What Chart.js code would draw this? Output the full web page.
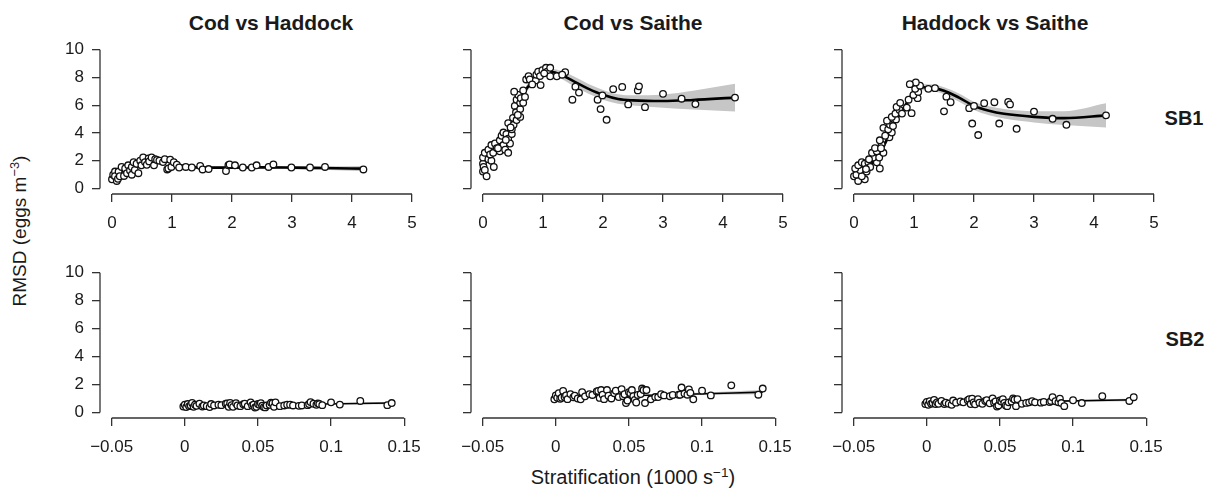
<!DOCTYPE html>
<html><head><meta charset="utf-8">
<script src="https://cdn.jsdelivr.net/npm/chart.js@4"></script>
<style>
html,body{margin:0;padding:0;background:#fff;}
body{width:1213px;height:500px;position:relative;overflow:hidden;font-family:"Liberation Sans",Arial,sans-serif;color:#1a1a1a;}
canvas{position:absolute;}
.lab{position:absolute;white-space:nowrap;line-height:1;transform:translate(-50%,-50%);}
.b{font-weight:bold;}
.sup{font-size:0.68em;position:relative;top:-0.55em;}
</style></head><body>
<div class="lab b" style="left:271px;top:22px;font-size:21px;">Cod vs Haddock</div>
<div class="lab b" style="left:633px;top:22px;font-size:21px;">Cod vs Saithe</div>
<div class="lab b" style="left:995px;top:22px;font-size:21px;">Haddock vs Saithe</div>
<div class="lab b" style="left:1184px;top:118px;font-size:20px;">SB1</div>
<div class="lab b" style="left:1185px;top:339px;font-size:20px;">SB2</div>
<div class="lab" style="left:633px;top:477px;font-size:20px;">Stratification (1000 s<span class="sup">−1</span>)</div>
<div class="lab" style="left:19px;top:231px;font-size:19px;transform:translate(-50%,-50%) rotate(-90deg);">RMSD (eggs m<span class="sup">−3</span>)</div>
<script>
// ---------- axis ticks ----------
const sb1XTicks = [0, 1, 2, 3, 4, 5];
const sb1XLabels = ['0', '1', '2', '3', '4', '5'];
const sb2XTicks = [-0.05, 0, 0.05, 0.1, 0.15];
const sb2XLabels = ['\u22120.05', '0', '0.05', '0.1', '0.15'];
const yTicks = [0, 2, 4, 6, 8, 10];
const yLabels = ['0', '2', '4', '6', '8', '10'];

// ---------- SB1: Cod vs Haddock ----------
const codHadSB1X = [0.00,0.02,0.05,0.05,0.08,0.10,0.11,0.13,0.16,0.20,0.22,0.25,0.27,0.30,0.33,0.33,0.36,0.38,0.41,0.44,0.47,0.49,0.52,0.55,0.58,0.61,0.62,0.66,0.70,0.72,0.75,0.79,0.85,0.88,0.92,0.94,0.97,0.99,1.03,1.08,1.12,1.23,1.33,1.47,1.51,1.61,1.90,1.94,1.96,2.05,2.18,2.33,2.41,2.61,2.69,2.99,3.30,3.55,4.19];
const codHadSB1Y = [0.66,0.99,1.22,0.88,0.54,0.70,1.22,0.88,1.55,0.90,1.44,1.10,1.67,1.30,1.55,0.99,1.89,1.33,1.78,1.10,2.00,1.67,2.23,1.90,1.71,2.16,1.95,2.23,1.67,2.11,2.05,2.00,1.90,2.11,1.37,1.44,2.07,1.55,1.89,1.71,1.51,1.55,1.51,1.62,1.37,1.40,1.26,1.67,1.73,1.67,1.51,1.51,1.67,1.55,1.73,1.51,1.51,1.55,1.37];
const codHadSB1FitX = [0,0.15,0.3,0.45,0.6,0.75,0.9,1.05,1.2,1.4,1.7,2.0,2.5,3.0,3.5,4.2];
const codHadSB1FitY = [0.85,1.2,1.5,1.8,2.02,2.08,1.98,1.8,1.62,1.52,1.5,1.5,1.52,1.5,1.47,1.43];
const codHadSB1Hi   = [1.0,1.3,1.6,1.9,2.12,2.18,2.08,1.9,1.72,1.62,1.58,1.58,1.6,1.6,1.6,1.62];
const codHadSB1Lo   = [0.7,1.1,1.4,1.7,1.92,1.98,1.88,1.7,1.52,1.42,1.42,1.42,1.44,1.4,1.34,1.24];

// ---------- SB1: Cod vs Saithe ----------
const codSaiSB1X = [0.00,0.00,0.01,0.03,0.06,0.00,0.09,0.14,0.18,0.03,0.09,0.12,0.17,0.14,0.20,0.23,0.28,0.28,0.31,0.34,0.34,0.37,0.39,0.42,0.42,0.45,0.42,0.48,0.48,0.50,0.51,0.53,0.55,0.56,0.56,0.59,0.62,0.62,0.62,0.63,0.52,0.67,0.67,0.72,0.76,0.78,0.88,0.89,0.92,0.96,0.99,1.05,1.07,1.12,1.12,1.23,1.37,1.32,1.49,1.54,1.60,1.91,1.96,1.99,2.06,2.17,2.32,2.42,2.58,2.60,2.70,3.00,3.31,3.54,4.20,0.25,0.38,0.46,0.58,0.70,0.82,0.95,1.02];
const codSaiSB1Y = [1.22,1.78,1.55,1.33,0.88,2.23,2.11,2.00,1.55,2.57,2.79,2.45,2.57,3.13,3.24,2.91,2.68,3.47,3.80,4.03,3.13,2.79,3.92,3.58,2.57,3.24,4.71,3.92,4.26,5.09,4.59,5.95,5.49,4.93,6.40,6.74,5.16,5.72,6.17,6.51,6.98,6.17,7.07,7.86,8.09,7.86,7.79,8.20,8.42,7.45,8.53,8.70,8.42,8.70,8.09,8.09,8.38,8.20,6.40,7.34,6.91,6.40,5.72,6.71,4.95,7.16,7.32,6.06,7.07,7.36,5.86,6.82,6.47,6.08,6.55,2.90,3.50,4.40,5.30,6.60,7.50,8.10,8.30];
const codSaiSB1FitX = [0,0.1,0.2,0.3,0.4,0.5,0.6,0.7,0.8,0.9,1.0,1.15,1.3,1.5,1.75,2.0,2.25,2.5,3.0,3.5,4.2];
const codSaiSB1FitY = [1.6,2.3,2.8,3.3,4.0,4.8,5.9,7.0,7.6,8.0,8.3,8.4,8.2,7.75,7.2,6.75,6.45,6.35,6.3,6.38,6.55];
const codSaiSB1Hi   = [2.0,2.55,3.05,3.55,4.25,5.05,6.15,7.25,7.85,8.25,8.5,8.62,8.48,8.1,7.55,7.1,6.8,6.72,6.78,7.05,7.55];
const codSaiSB1Lo   = [1.2,2.05,2.55,3.05,3.75,4.55,5.65,6.75,7.35,7.75,8.1,8.18,7.92,7.4,6.85,6.4,6.1,5.98,5.82,5.7,5.55];

// ---------- SB1: Haddock vs Saithe ----------
const hadSaiSB1X = [0.00,0.07,0.18,0.04,0.13,0.10,0.21,0.02,0.07,0.13,0.18,0.24,0.27,0.43,0.38,0.32,0.42,0.30,0.49,0.38,0.35,0.46,0.43,0.59,0.52,0.63,0.49,0.57,0.60,0.55,0.70,0.63,0.69,0.76,0.71,0.77,0.88,0.96,0.91,1.06,0.99,1.07,1.02,1.10,1.03,0.93,1.24,1.35,1.50,1.54,1.61,1.92,2.00,1.97,2.07,2.17,2.34,2.42,2.57,2.60,2.71,3.00,3.31,3.54,4.20,0.25,0.45,0.65,0.80,0.20];
const hadSaiSB1Y = [0.88,0.54,0.66,0.99,0.88,1.33,1.22,1.44,1.67,1.89,1.78,1.89,1.55,1.44,1.89,2.23,2.23,2.57,2.57,2.68,2.91,3.18,3.47,3.69,3.80,4.03,4.37,4.26,4.59,4.89,4.98,5.16,5.39,5.66,5.88,6.17,5.83,5.43,6.40,6.51,6.74,6.96,7.18,7.41,7.64,7.52,7.18,7.23,5.56,6.62,6.22,5.79,5.95,4.68,3.85,6.15,6.22,4.68,6.24,6.06,4.30,5.54,5.02,4.59,5.27,2.10,2.90,4.50,5.40,1.40];
const hadSaiSB1FitX = [0,0.1,0.2,0.3,0.4,0.5,0.6,0.7,0.8,0.9,1.0,1.15,1.3,1.5,1.75,2.0,2.25,2.5,3.0,3.5,4.2];
const hadSaiSB1FitY = [0.8,1.1,1.45,1.85,2.4,3.1,4.0,4.9,5.6,6.3,7.0,7.3,7.25,7.05,6.55,5.95,5.6,5.38,5.16,5.07,5.27];
const hadSaiSB1Hi   = [1.15,1.35,1.7,2.1,2.65,3.35,4.25,5.15,5.85,6.55,7.22,7.52,7.5,7.3,6.85,6.25,5.92,5.72,5.56,5.57,6.15];
const hadSaiSB1Lo   = [0.45,0.85,1.2,1.6,2.15,2.85,3.75,4.65,5.35,6.05,6.78,7.08,7.0,6.8,6.25,5.65,5.28,5.04,4.76,4.57,4.39];

// ---------- SB2 (shared stratification values) ----------
const sb2X = [-0.001,0,0.001,0.002,0.003,0.004,0.005,0.006,0.007,0.008,0.010,0.012,0.013,0.015,0.017,0.018,0.020,0.023,0.025,0.028,0.029,0.030,0.031,0.032,0.033,0.035,0.036,0.038,0.040,0.041,0.043,0.045,0.046,0.047,0.048,0.049,0.050,0.051,0.052,0.053,0.054,0.055,0.056,0.058,0.059,0.060,0.061,0.062,0.065,0.068,0.070,0.072,0.074,0.078,0.080,0.084,0.085,0.086,0.088,0.090,0.091,0.092,0.094,0.100,0.106,0.120,0.1385,0.1415];
const codHadSB2Y = [0.42,0.55,0.38,0.60,0.45,0.50,0.68,0.40,0.55,0.47,0.62,0.42,0.50,0.45,0.38,0.60,0.50,0.55,0.52,0.62,0.65,0.40,0.68,0.52,0.40,0.66,0.50,0.45,0.58,0.62,0.45,0.72,0.50,0.55,0.35,0.40,0.60,0.55,0.66,0.48,0.38,0.36,0.50,0.55,0.70,0.66,0.40,0.72,0.45,0.50,0.55,0.55,0.50,0.47,0.50,0.52,0.60,0.74,0.62,0.55,0.65,0.60,0.52,0.72,0.56,0.82,0.52,0.67];
const codSaiSB2Y = [0.94,1.22,1.05,1.38,0.98,1.05,1.54,1.10,1.22,0.95,1.31,1.09,1.20,1.00,0.94,1.45,1.15,1.31,1.25,1.50,1.54,1.04,1.60,1.27,0.95,1.60,1.20,1.00,1.38,1.55,1.10,1.67,1.16,1.30,0.67,0.85,1.45,1.38,1.60,1.16,0.90,0.71,1.25,1.31,1.71,1.60,0.67,1.60,0.94,1.10,1.10,1.30,1.22,1.16,1.25,1.27,1.27,1.78,1.35,1.27,1.65,1.40,0.94,1.56,1.22,1.94,1.27,1.71];
const hadSaiSB2Y = [0.60,0.75,0.55,0.80,0.62,0.68,0.90,0.60,0.72,0.62,0.82,0.60,0.70,0.62,0.55,0.85,0.70,0.78,0.72,0.88,0.95,0.60,0.98,0.72,0.58,0.95,0.70,0.62,0.82,0.88,0.65,1.00,0.70,0.78,0.42,0.50,0.85,0.78,0.95,0.68,0.50,0.45,0.72,0.78,1.00,0.92,0.45,0.95,0.62,0.68,0.72,0.80,0.72,0.70,0.75,0.74,0.82,1.09,0.80,0.72,0.98,0.67,0.45,0.87,0.67,1.16,0.82,1.09];
const sb2FitX = [-0.001, 0.07, 0.1415];
const codHadSB2FitY = [0.47, 0.57, 0.67];
const codHadSB2Hi   = [0.53, 0.60, 0.76];
const codHadSB2Lo   = [0.41, 0.54, 0.58];
const codSaiSB2FitY = [1.05, 1.25, 1.45];
const codSaiSB2Hi   = [1.12, 1.30, 1.60];
const codSaiSB2Lo   = [0.98, 1.20, 1.30];
const hadSaiSB2FitY = [0.64, 0.77, 0.90];
const hadSaiSB2Hi   = [0.70, 0.81, 1.00];
const hadSaiSB2Lo   = [0.58, 0.73, 0.80];

// ---------- drawing ----------
const FONT = "'Liberation Sans', Arial, sans-serif";
const TXT = '#1a1a1a';
const AX = '#333';
const zip = (xs, ys) => xs.map((x, i) => ({x: x, y: ys[i]}));

const rAxes = {
  id: 'rAxes',
  afterDraw(chart, args, o) {
    const {ctx, chartArea: a, scales: {x, y}} = chart;
    ctx.save();
    ctx.strokeStyle = AX; ctx.lineWidth = 1.3;
    ctx.beginPath();
    ctx.moveTo(x.getPixelForValue(o.x0), a.bottom);
    ctx.lineTo(x.getPixelForValue(o.x1), a.bottom);
    ctx.moveTo(a.left, y.getPixelForValue(0));
    ctx.lineTo(a.left, y.getPixelForValue(10));
    ctx.stroke();
    ctx.restore();
  }
};

const YW = 50, PT = 8, PR = 8, XH = 42, CW = 324;

function panel(row, col, px, py, fx, fy, hi, lo) {
  const top = row === 0;
  const CL = 100 + 371 * col;
  const CT = top ? 34 : 257;
  const CH = top ? 160 : 161;
  const cv = document.createElement('canvas');
  const W = YW + CW + PR, H = PT + CH + XH;
  cv.width = W; cv.height = H;
  cv.style.left = (CL - YW) + 'px';
  cv.style.top = (CT - PT) + 'px';
  cv.style.width = W + 'px'; cv.style.height = H + 'px';
  document.body.appendChild(cv);
  const xT = top ? sb1XTicks : sb2XTicks;
  const xL = top ? sb1XLabels : sb2XLabels;
  const xmin = top ? -0.2 : -0.058, xmax = top ? 5.2 : 0.158;
  const lw = top ? 2.6 : 1.6;
  new Chart(cv, {
    type: 'scatter',
    data: {
      datasets: [
        {data: zip(px, py), showLine: false, pointRadius: 3.3, pointBorderWidth: 1.3,
         pointBackgroundColor: '#fff', pointBorderColor: '#111'},
        {data: zip(fx, fy), showLine: true, pointRadius: 0, borderWidth: lw, borderColor: '#000',
         cubicInterpolationMode: 'monotone'},
        {data: zip(fx, hi), showLine: true, pointRadius: 0, borderWidth: 0, borderColor: 'rgba(0,0,0,0)',
         cubicInterpolationMode: 'monotone', fill: false},
        {data: zip(fx, lo), showLine: true, pointRadius: 0, borderWidth: 0, borderColor: 'rgba(0,0,0,0)',
         cubicInterpolationMode: 'monotone', fill: '-1', backgroundColor: '#c6c6c6'}
      ]
    },
    options: {
      responsive: false, animation: false, devicePixelRatio: 1,
      layout: {padding: {top: PT, right: PR, left: 0, bottom: 0}},
      plugins: {legend: {display: false}, tooltip: {enabled: false}, rAxes: {x0: xT[0], x1: xT[xT.length - 1]}},
      scales: {
        x: {
          type: 'linear', min: xmin, max: xmax,
          afterBuildTicks: s => { s.ticks = xT.map(v => ({value: v})); },
          afterFit: s => { s.height = XH; },
          ticks: {callback: (v, i) => xL[i], font: {size: 17, family: FONT}, color: TXT,
                  padding: 11, maxRotation: 0, autoSkip: false},
          grid: {drawOnChartArea: false, drawTicks: true, tickLength: 8, color: AX, lineWidth: 1.3},
          border: {display: false}
        },
        y: {
          type: 'linear', min: -0.4, max: 10.4,
          afterBuildTicks: s => { s.ticks = yTicks.map(v => ({value: v})); },
          afterFit: s => { s.width = YW; },
          ticks: {callback: (v, i) => (col === 0 ? yLabels[i] : ''), font: {size: 17, family: FONT}, color: TXT,
                  padding: 8, autoSkip: false},
          grid: {drawOnChartArea: false, drawTicks: true, tickLength: 8, color: AX, lineWidth: 1.3},
          border: {display: false}
        }
      }
    },
    plugins: [rAxes]
  });
}

panel(0, 0, codHadSB1X, codHadSB1Y, codHadSB1FitX, codHadSB1FitY, codHadSB1Hi, codHadSB1Lo);
panel(0, 1, codSaiSB1X, codSaiSB1Y, codSaiSB1FitX, codSaiSB1FitY, codSaiSB1Hi, codSaiSB1Lo);
panel(0, 2, hadSaiSB1X, hadSaiSB1Y, hadSaiSB1FitX, hadSaiSB1FitY, hadSaiSB1Hi, hadSaiSB1Lo);
panel(1, 0, sb2X, codHadSB2Y, sb2FitX, codHadSB2FitY, codHadSB2Hi, codHadSB2Lo);
panel(1, 1, sb2X, codSaiSB2Y, sb2FitX, codSaiSB2FitY, codSaiSB2Hi, codSaiSB2Lo);
panel(1, 2, sb2X, hadSaiSB2Y, sb2FitX, hadSaiSB2FitY, hadSaiSB2Hi, hadSaiSB2Lo);
</script>
</body></html>
